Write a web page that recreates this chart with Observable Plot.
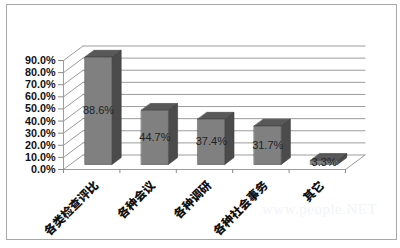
<!DOCTYPE html>
<html>
<head>
<meta charset="utf-8">
<script src="https://cdn.jsdelivr.net/npm/d3@7"></script>
<script src="https://cdn.jsdelivr.net/npm/@observablehq/plot@0.6"></script>
<style>
  html, body { margin: 0; padding: 0; background: #fff; }
  #wrap { position: relative; width: 400px; height: 248px; overflow: hidden; }
  #border { position: absolute; left: 6px; top: 4px; width: 389px; height: 234px; border: 1px solid #a8a8a8; pointer-events: none; }
  #wm { position: absolute; left: 262px; top: 201px; font: 15px "Liberation Serif", serif; color: #f1f5f8; letter-spacing: 0.5px; }
</style>
</head>
<body>
<div id="wrap"><div id="border"></div><div id="wm">www.people.NET</div></div>
<script>
const categories = ["各类检查评比", "各种会议", "各种调研", "各种社会事务", "其它"];
const values = [88.6, 44.7, 37.4, 31.7, 3.3];
const yTicks = [0, 10, 20, 30, 40, 50, 60, 70, 80, 90];

const W = 400, H = 248;
const mL = 63, mR = 55, mT = 60, mB = 79;
const n = categories.length;
const kx = (W - mL - mR) / n;      // px per category unit
const ky = (H - mT - mB) / 90;     // px per percent
const DX = 19.5 / kx, DY = 14.5 / ky; // full depth in data units
const P = (c, v, d) => ({x: c + d * DX, y: v + d * DY});
const f0 = 0.35, f1 = 0.82, hw = 13.5 / kx;

// gridlines
const grid = [];
yTicks.forEach((t, i) => {
  grid.push({id: "b" + i, ...P(0, t, 1)}, {id: "b" + i, ...P(n, t, 1)});
  grid.push({id: "s" + i, ...P(0, t, 0)}, {id: "s" + i, ...P(0, t, 1)});
});
[P(0, 0, 0), P(n, 0, 0), P(n, 0, 1)].forEach(p => grid.push({id: "floor", ...p}));
[P(0, 0, 0), P(0, 90, 0)].forEach(p => grid.push({id: "axis", ...p}));

// bar faces
const fronts = [], sides = [], tops = [];
values.forEach((v, i) => {
  const c = i + 0.5, l = c - hw, r = c + hw;
  [P(l, 0, f0), P(r, 0, f0), P(r, v, f0), P(l, v, f0)].forEach(p => fronts.push({id: i, ...p}));
  [P(r, 0, f0), P(r, 0, f1), P(r, v, f1), P(r, v, f0)].forEach(p => sides.push({id: i, ...p}));
  [P(l, v, f0), P(r, v, f0), P(r, v, f1), P(l, v, f1)].forEach(p => tops.push({id: i, ...p}));
});

const chart = Plot.plot({
  width: W, height: H,
  marginLeft: mL, marginRight: mR, marginTop: mT, marginBottom: mB,
  x: {domain: [0, n], label: null, axis: null},
  y: {domain: [0, 90], label: null, axis: null},
  style: {background: "transparent", overflow: "visible", fontFamily: "'Liberation Sans', Arial, sans-serif"},
  marks: [
    Plot.line(grid, {x: "x", y: "y", z: "id", stroke: "#9c9c9c", strokeWidth: 1}),
    Plot.ruleX(d3.range(n + 1), {x: d => d, y1: 0, y2: -4 / ky, stroke: "#8a8a8a"}),
    Plot.axisY(yTicks, {tickSize: 5, tickPadding: 3, tickFormat: d => d.toFixed(1) + "%",
      fontSize: 10.8, fontWeight: "bold", fill: "#111", stroke: "#8a8a8a"}),
    Plot.line(sides, {x: "x", y: "y", z: "id", curve: "linear-closed", fill: "#4b4b4b", stroke: "#3a3a3a", strokeWidth: 0.6}),
    Plot.line(tops, {x: "x", y: "y", z: "id", curve: "linear-closed", fill: "#585858", stroke: "#3a3a3a", strokeWidth: 0.6}),
    Plot.line(fronts, {x: "x", y: "y", z: "id", curve: "linear-closed", fill: "#808080", stroke: "#444", strokeWidth: 0.6}),
    Plot.text(values, {x: (d, i) => i + 0.5 + f0 * DX, y: d => d / 2 + f0 * DY,
      text: d => d.toFixed(1) + "%", fontSize: 11, fill: "#222"}),
    Plot.text(categories, {x: (d, i) => i + 0.5 + 5 / kx, y: -14 / ky, text: d => d,
      rotate: -45, textAnchor: "end", fontSize: 11.8, fontWeight: 900, fill: "#111",
      fontFamily: "'Noto Sans CJK SC', sans-serif"})
  ]
});
chart.style.position = "absolute";
chart.style.left = "0px";
chart.style.top = "0px";
document.getElementById("wrap").appendChild(chart);
</script>
</body>
</html>
